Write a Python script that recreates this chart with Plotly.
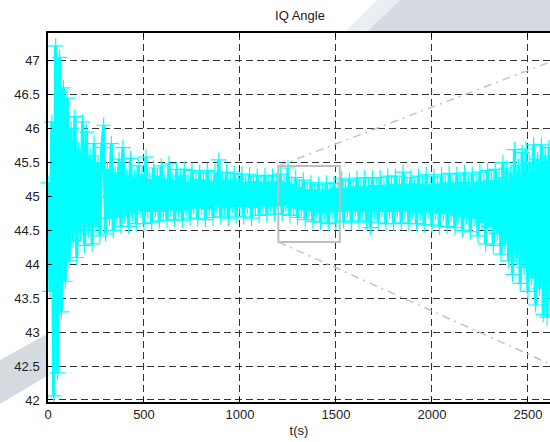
import plotly.graph_objects as go

# IQ angle samples, one every 10 s
t_s = list(range(0, 2630, 10))
angle_deg = [
    # 0 - 90
    45.2, 43.6, 46.1, 42.06, 47.22, 42.4, 47.05, 43.3, 46.6, 43.75,
    # 100 - 190
    46.45, 44.05, 46.0, 44.35, 46.18, 44.1, 45.7, 44.45, 46.1, 44.28,
    # 200 - 290
    45.95, 44.5, 45.6, 44.3, 45.78, 44.55, 45.5, 44.42, 45.72, 46.05,
    # 300 - 390
    44.45, 45.4, 44.68, 45.78, 44.5, 45.35, 44.7, 45.55, 44.56, 45.72,
    # 400 - 490
    44.72, 45.3, 44.56, 45.56, 44.75, 45.28, 44.6, 45.45, 44.8, 45.32,
    # 500 - 590
    44.6, 45.58, 44.78, 45.25, 44.62, 45.42, 44.8, 45.3, 44.64, 45.45,
    # 600 - 690
    44.78, 45.26, 44.65, 45.48, 44.82, 45.24, 44.66, 45.4, 44.8, 45.3,
    # 700 - 790
    44.65, 45.4, 44.82, 45.22, 44.68, 45.38, 44.85, 45.25, 44.67, 45.35,
    # 800 - 890
    44.84, 45.24, 44.66, 45.38, 44.82, 45.22, 44.69, 45.36, 44.86, 45.54,
    # 900 - 990
    44.7, 45.24, 44.84, 45.36, 44.68, 45.22, 44.86, 45.34, 44.71, 45.26,
    # 1000 - 1090
    44.85, 45.33, 44.7, 45.2, 44.86, 45.32, 44.68, 45.22, 44.84, 45.3,
    # 1100 - 1190
    44.72, 45.2, 44.86, 45.31, 44.73, 45.21, 44.88, 45.3, 44.74, 45.22,
    # 1200 - 1290
    44.86, 45.33, 44.74, 45.2, 44.88, 45.42, 44.72, 45.18, 44.84, 45.28,
    # 1300 - 1390
    44.69, 45.14, 44.82, 45.24, 44.66, 45.1, 44.8, 45.2, 44.63, 45.1,
    # 1400 - 1490
    44.78, 45.18, 44.62, 45.08, 44.76, 45.2, 44.6, 45.1, 44.78, 45.19,
    # 1500 - 1590
    44.62, 45.12, 44.78, 45.26, 44.64, 45.12, 44.8, 45.24, 44.62, 45.14,
    # 1600 - 1690
    44.8, 45.27, 44.64, 45.14, 44.78, 45.28, 44.62, 45.15, 44.54, 45.27,
    # 1700 - 1790
    44.78, 45.16, 44.62, 45.28, 44.8, 45.15, 44.6, 45.3, 44.78, 45.18,
    # 1800 - 1890
    44.6, 45.3, 44.8, 45.16, 44.62, 45.36, 44.78, 45.18, 44.6, 45.28,
    # 1900 - 1990
    44.78, 45.16, 44.6, 45.3, 44.76, 45.18, 44.58, 45.32, 44.78, 45.16,
    # 2000 - 2090
    44.58, 45.3, 44.76, 45.18, 44.55, 45.32, 44.75, 45.2, 44.56, 45.34,
    # 2100 - 2190
    44.74, 45.18, 44.54, 45.33, 44.72, 45.2, 44.5, 45.35, 44.7, 45.2,
    # 2200 - 2290
    44.48, 45.33, 44.68, 45.2, 44.42, 45.36, 44.62, 45.22, 44.3, 45.38,
    # 2300 - 2390
    44.56, 45.24, 44.28, 45.4, 44.45, 45.28, 44.15, 45.5, 44.3, 45.42,
    # 2400 - 2490
    44.05, 45.35, 43.85, 45.69, 44.1, 45.45, 43.72, 45.65, 43.95, 45.7,
    # 2500 - 2620
    43.6, 45.5, 43.8, 45.76, 43.4, 45.55, 43.65, 45.76, 43.26, 45.6,
    43.22, 45.72, 43.45,
]

x_ticks = [0, 500, 1000, 1500, 2000, 2500]
y_ticks = [42, 42.5, 43, 43.5, 44, 44.5, 45, 45.5, 46, 46.5, 47]

# zoom window and its connector lines
zoom_t = [1200, 1520]
zoom_y = [44.33, 45.45]
conn_end_t = 3000
conn_end_y = [42.04, 47.40]

W, H = 550, 442
ML, MR, MT, MB = 48, 0, 33, 40
PW, PH = W - ML - MR, H - MT - MB


def px_to_paper(px, py):
    return (px - ML) / PW, (H - MB - py) / PH


def poly_path(points):
    pts = [px_to_paper(x, y) for x, y in points]
    return "M " + " L ".join(f"{x:.4f},{y:.4f}" for x, y in pts) + " Z"


fig = go.Figure()
fig.add_trace(go.Scatter(
    x=t_s, y=angle_deg, mode="lines+markers",
    line=dict(color="#00FFFF", width=3.2, simplify=False),
    marker=dict(symbol="cross-thin", size=11,
                line=dict(color="#00FFFF", width=1.2)),
    cliponaxis=False, showlegend=False,
))

rx0, ry1 = px_to_paper(400, 0)
rx1, ry0 = px_to_paper(551, 32)
shapes = [
    # faint backdrop panels
    dict(type="path", xref="paper", yref="paper", layer="below",
         path=poly_path([(345, 32), (377, 0), (400, 0), (367, 32)]),
         fillcolor="#eaedf1", line=dict(width=0)),
    dict(type="rect", xref="paper", yref="paper", layer="below",
         x0=rx0, x1=rx1, y0=ry0, y1=ry1,
         fillcolor="#d6dbe2", line=dict(width=0)),
    dict(type="path", xref="paper", yref="paper", layer="below",
         path=poly_path([(367, 32), (400, 0), (400, 32)]),
         fillcolor="#d6dbe2", line=dict(width=0)),
    dict(type="path", xref="paper", yref="paper", layer="below",
         path=poly_path([(0, 360), (47, 334), (47, 376), (0, 404)]),
         fillcolor="#d6dbe2", line=dict(width=0)),
    # zoom box
    dict(type="rect", xref="x", yref="y",
         x0=zoom_t[0], x1=zoom_t[1], y0=zoom_y[0], y1=zoom_y[1],
         line=dict(color="#bdbdbd", width=2)),
    dict(type="line", xref="x", yref="y",
         x0=zoom_t[0], y0=zoom_y[1], x1=conn_end_t, y1=conn_end_y[1],
         line=dict(color="#c4c4c4", width=1.5, dash="8px,5px,2px,5px")),
    dict(type="line", xref="x", yref="y",
         x0=zoom_t[0], y0=zoom_y[0], x1=conn_end_t, y1=conn_end_y[0],
         line=dict(color="#c4c4c4", width=1.5, dash="8px,5px,2px,5px")),
]

font = dict(family="Liberation Sans, Arial, sans-serif", size=13, color="#222222")

fig.update_layout(
    width=W, height=H,
    margin=dict(l=ML, r=MR, t=MT, b=MB, pad=0),
    paper_bgcolor="white", plot_bgcolor="white",
    font=font,
    title=dict(text="IQ Angle", x=300 / W, xanchor="center",
               y=1 - 15 / H, yanchor="middle", font=font),
    shapes=shapes,
    xaxis=dict(
        range=[0, 2615], tickvals=x_ticks, ticks="inside", ticklen=4,
        tickcolor="black", showline=True, linecolor="black", linewidth=1.5,
        mirror="ticks", showgrid=True, gridcolor="#333333", gridwidth=1,
        griddash="7px,4px", zeroline=False,
        title=dict(text="t(s)", standoff=5, font=font),
    ),
    yaxis=dict(
        range=[41.97, 47.41], tickvals=y_ticks, ticks="inside", ticklen=4,
        tickcolor="black", showline=True, linecolor="black", linewidth=1.5,
        mirror=False, showgrid=True, gridcolor="#333333", gridwidth=1,
        griddash="7px,4px", zeroline=False, ticklabelstandoff=4,
    ),
)

fig.write_html("out.html", config={"displayModeBar": False})
